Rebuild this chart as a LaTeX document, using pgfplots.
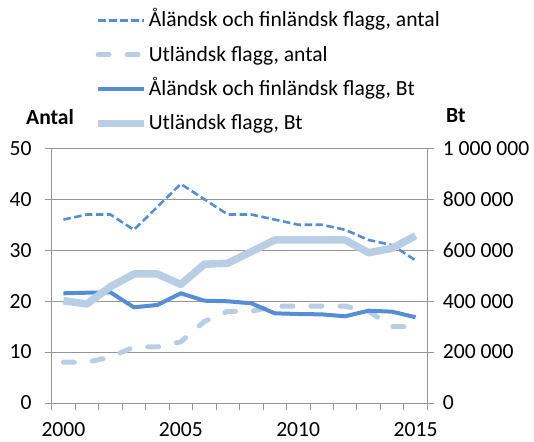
\documentclass[border=0pt]{standalone}
\usepackage{fontspec}
\setmainfont{Carlito}
\usepackage{pgfplots}
\pgfplotsset{compat=1.18}
\definecolor{midblue}{RGB}{85,142,213}
\definecolor{lightblue}{RGB}{185,205,229}
\definecolor{gridgray}{RGB}{150,150,150}
\newcommand{\fs}{\fontsize{21.6bp}{26bp}\selectfont}
\pgfplotsset{
  common/.style={
    at={(0,0)}, anchor=south west,
    scale only axis, width=375.6bp, height=254.7bp,
    xmin=1999.5, xmax=2015.5,
    clip=false,
    tick align=outside,
    major tick length=7bp, minor tick length=7bp,
    every tick/.style={gridgray, line width=0.8bp},
    axis line style={gridgray, line width=0.8bp},
    ticklabel style={font=\fs, text=black, inner sep=0pt},
    /pgf/number format/assume math mode=true,
  },
  s1/.style={midblue, line width=2.6bp, dash pattern=on 7.5bp off 3.5bp},
  s2/.style={lightblue, line width=5bp, line cap=round, dash pattern=on 11bp off 18bp},
  s3/.style={midblue, line width=4bp, line join=round},
  s4/.style={lightblue, line width=7.5bp, line join=round},
}
\begin{document}
\begin{tikzpicture}
\useasboundingbox (-51.7bp,-39bp) rectangle (482.3bp,403bp);
\begin{axis}[common,
  axis x line*=bottom, axis y line*=left,
  ymin=0, ymax=50, ytick={0,10,20,30,40,50},
  ymajorgrids, grid style={gridgray, line width=0.8bp},
  xtick={2000,2005,2010,2015},
  xticklabels={2000,2005,2010,2015},
  major x tick style={draw=none},
  minor xtick={1999.5,2000.5,2001.5,2002.5,2003.5,2004.5,2005.5,2006.5,2007.5,2008.5,2009.5,2010.5,2011.5,2012.5,2013.5,2014.5,2015.5},
  yticklabel style={anchor=east, xshift=-13bp},
  xticklabel style={anchor=north, yshift=-12.5bp, text depth=0pt},
]
\addplot[s1] coordinates {(2000,36) (2001,37) (2002,37) (2003,34) (2004,38.5) (2005,43) (2006,40) (2007,37) (2008,37) (2009,36) (2010,35) (2011,35) (2012,34) (2013,32) (2014,31) (2015,28)};
\addplot[s2] coordinates {(2000,8) (2001,8) (2002,9) (2003,11) (2004,11) (2005,12) (2006,16) (2007,18) (2008,18) (2009,19) (2010,19) (2011,19) (2012,19) (2013,18) (2014,15) (2015,15)};
\node[anchor=base west, font=\fs\bfseries] at (rel axis cs:-0.0772,1.0915) {Antal};
\end{axis}
\begin{axis}[common,
  axis x line=none, axis y line*=right,
  ymin=0, ymax=1000, ytick={0,200,400,600,800,1000},
  yticklabels={0,200 000,400 000,600 000,800 000,1 000 000},
  yticklabel style={anchor=west, xshift=8.4bp},
  legend style={draw=none, fill=none, inner sep=0pt, outer sep=0pt,
    at={(axis description cs:0.1135,1.543)}, anchor=north west,
    row sep=12.7bp, column sep=1bp,
    nodes={font=\fs, inner sep=0pt, text height=17bp, text depth=4.5bp}},
  legend cell align=left,
  legend image code/.code={\draw[#1] (0bp,0bp) -- (46bp,0bp);},
]
\addlegendimage{s1}
\addlegendentry{Åländsk och finländsk flagg, antal}
\addlegendimage{s2}
\addlegendentry{Utländsk flagg, antal}
\addplot[s3] coordinates {(2000,430.7) (2001,433) (2002,434.6) (2003,375.7) (2004,384.8) (2005,430.7) (2006,401.6) (2007,399.3) (2008,391.4) (2009,352.2) (2010,349.4) (2011,348) (2012,340.4) (2013,362.4) (2014,358.5) (2015,336.5)};
\addlegendentry{Åländsk och finländsk flagg, Bt}
\addplot[s4] coordinates {(2000,401.6) (2001,388.7) (2002,456.6) (2003,506.5) (2004,506.5) (2005,465.6) (2006,544.8) (2007,548.7) (2008,594) (2009,640) (2010,640) (2011,640) (2012,640) (2013,590) (2014,607.4) (2015,656.8)};
\addlegendentry{Utländsk flagg, Bt}
\node[anchor=base west, font=\fs\bfseries] at (rel axis cs:1.041,1.1005) {Bt};
\end{axis}
\end{tikzpicture}
\end{document}
